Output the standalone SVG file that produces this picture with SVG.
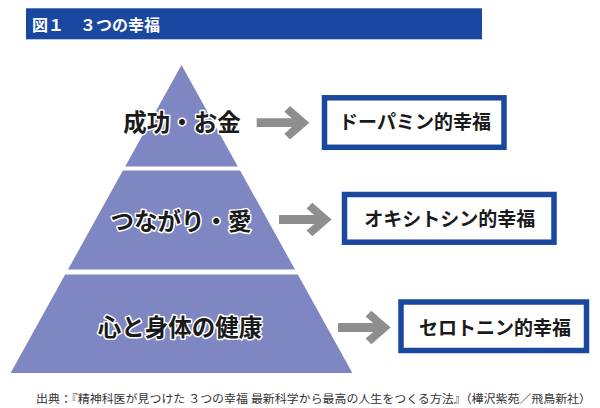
<svg xmlns="http://www.w3.org/2000/svg" width="600" height="408" viewBox="0 0 600 408">
  <defs>
    <style>
      .jp { font-family: "Noto Sans CJK JP", "Noto Sans", sans-serif; }
      .tier { fill: #7f87c3; }
      .lbl { font-size: 23.5px; font-weight: 700; fill: #1a1a1a; stroke: #ffffff; stroke-width: 3px; stroke-linejoin: round; paint-order: stroke; text-anchor: middle; }
      .box rect { fill: #ffffff; stroke: #1b489f; stroke-width: 5.5px; }
      .box text { font-size: 19px; font-weight: 700; fill: #1a1a1a; text-anchor: middle; }
      .arrow { fill: #8e8e8e; }
    </style>
    <path id="arr" d="M0,-4.4 L35.2,-4.4 L27.6,-11 L33.3,-16.7 L52.6,0 L33.3,16.7 L27.6,11 L35.2,4.4 L0,4.4 Z"/>
  </defs>
  <rect x="0" y="0" width="600" height="408" fill="#ffffff"/>

  <g id="title">
    <rect x="26" y="8.3" width="456" height="31" fill="#1a47a0"/>
    <text class="jp" x="32" y="30.6" font-size="16" font-weight="700" fill="#ffffff">図１　３つの幸福</text>
  </g>

  <g id="tier-top">
    <polygon class="tier" points="181.5,65 237.8,166.5 125.2,166.5"/>
    <text class="jp lbl" x="182" y="131">成功・お金</text>
  </g>
  <g id="tier-mid">
    <polygon class="tier" points="122.9,170.5 240.1,170.5 295,269.5 68,269.5"/>
    <text class="jp lbl" x="181" y="230">つながり・愛</text>
  </g>
  <g id="tier-bottom">
    <polygon class="tier" points="65.2,274.5 297.8,274.5 352.4,373 10.6,373"/>
    <text class="jp lbl" x="180" y="336">心と身体の健康</text>
  </g>

  <g id="connectors">
    <use href="#arr" class="arrow" transform="translate(256.7,122.7)"/>
    <use href="#arr" class="arrow" transform="translate(279,219.5)"/>
    <use href="#arr" class="arrow" transform="translate(338,327.5)"/>
  </g>

  <g id="box-dopamine" class="box">
    <rect x="324.5" y="97.8" width="179.5" height="49.5"/>
    <text class="jp" x="415" y="129.3">ドーパミン的幸福</text>
  </g>
  <g id="box-oxytocin" class="box">
    <rect x="344.5" y="194.5" width="209.5" height="47.7"/>
    <text class="jp" x="449.7" y="226">オキシトシン的幸福</text>
  </g>
  <g id="box-serotonin" class="box">
    <rect x="401" y="302" width="185.5" height="48.5"/>
    <text class="jp" x="495" y="335">セロトニン的幸福</text>
  </g>

  <g id="footer">
    <text x="36" y="403" font-family="'Liberation Serif', 'Noto Sans CJK JP', serif" font-size="11.5" fill="#333333" textLength="555" lengthAdjust="spacingAndGlyphs">出典：『精神科医が見つけた ３つの幸福 最新科学から最高の人生をつくる方法』（樺沢紫苑／飛鳥新社）</text>
  </g>
</svg>
